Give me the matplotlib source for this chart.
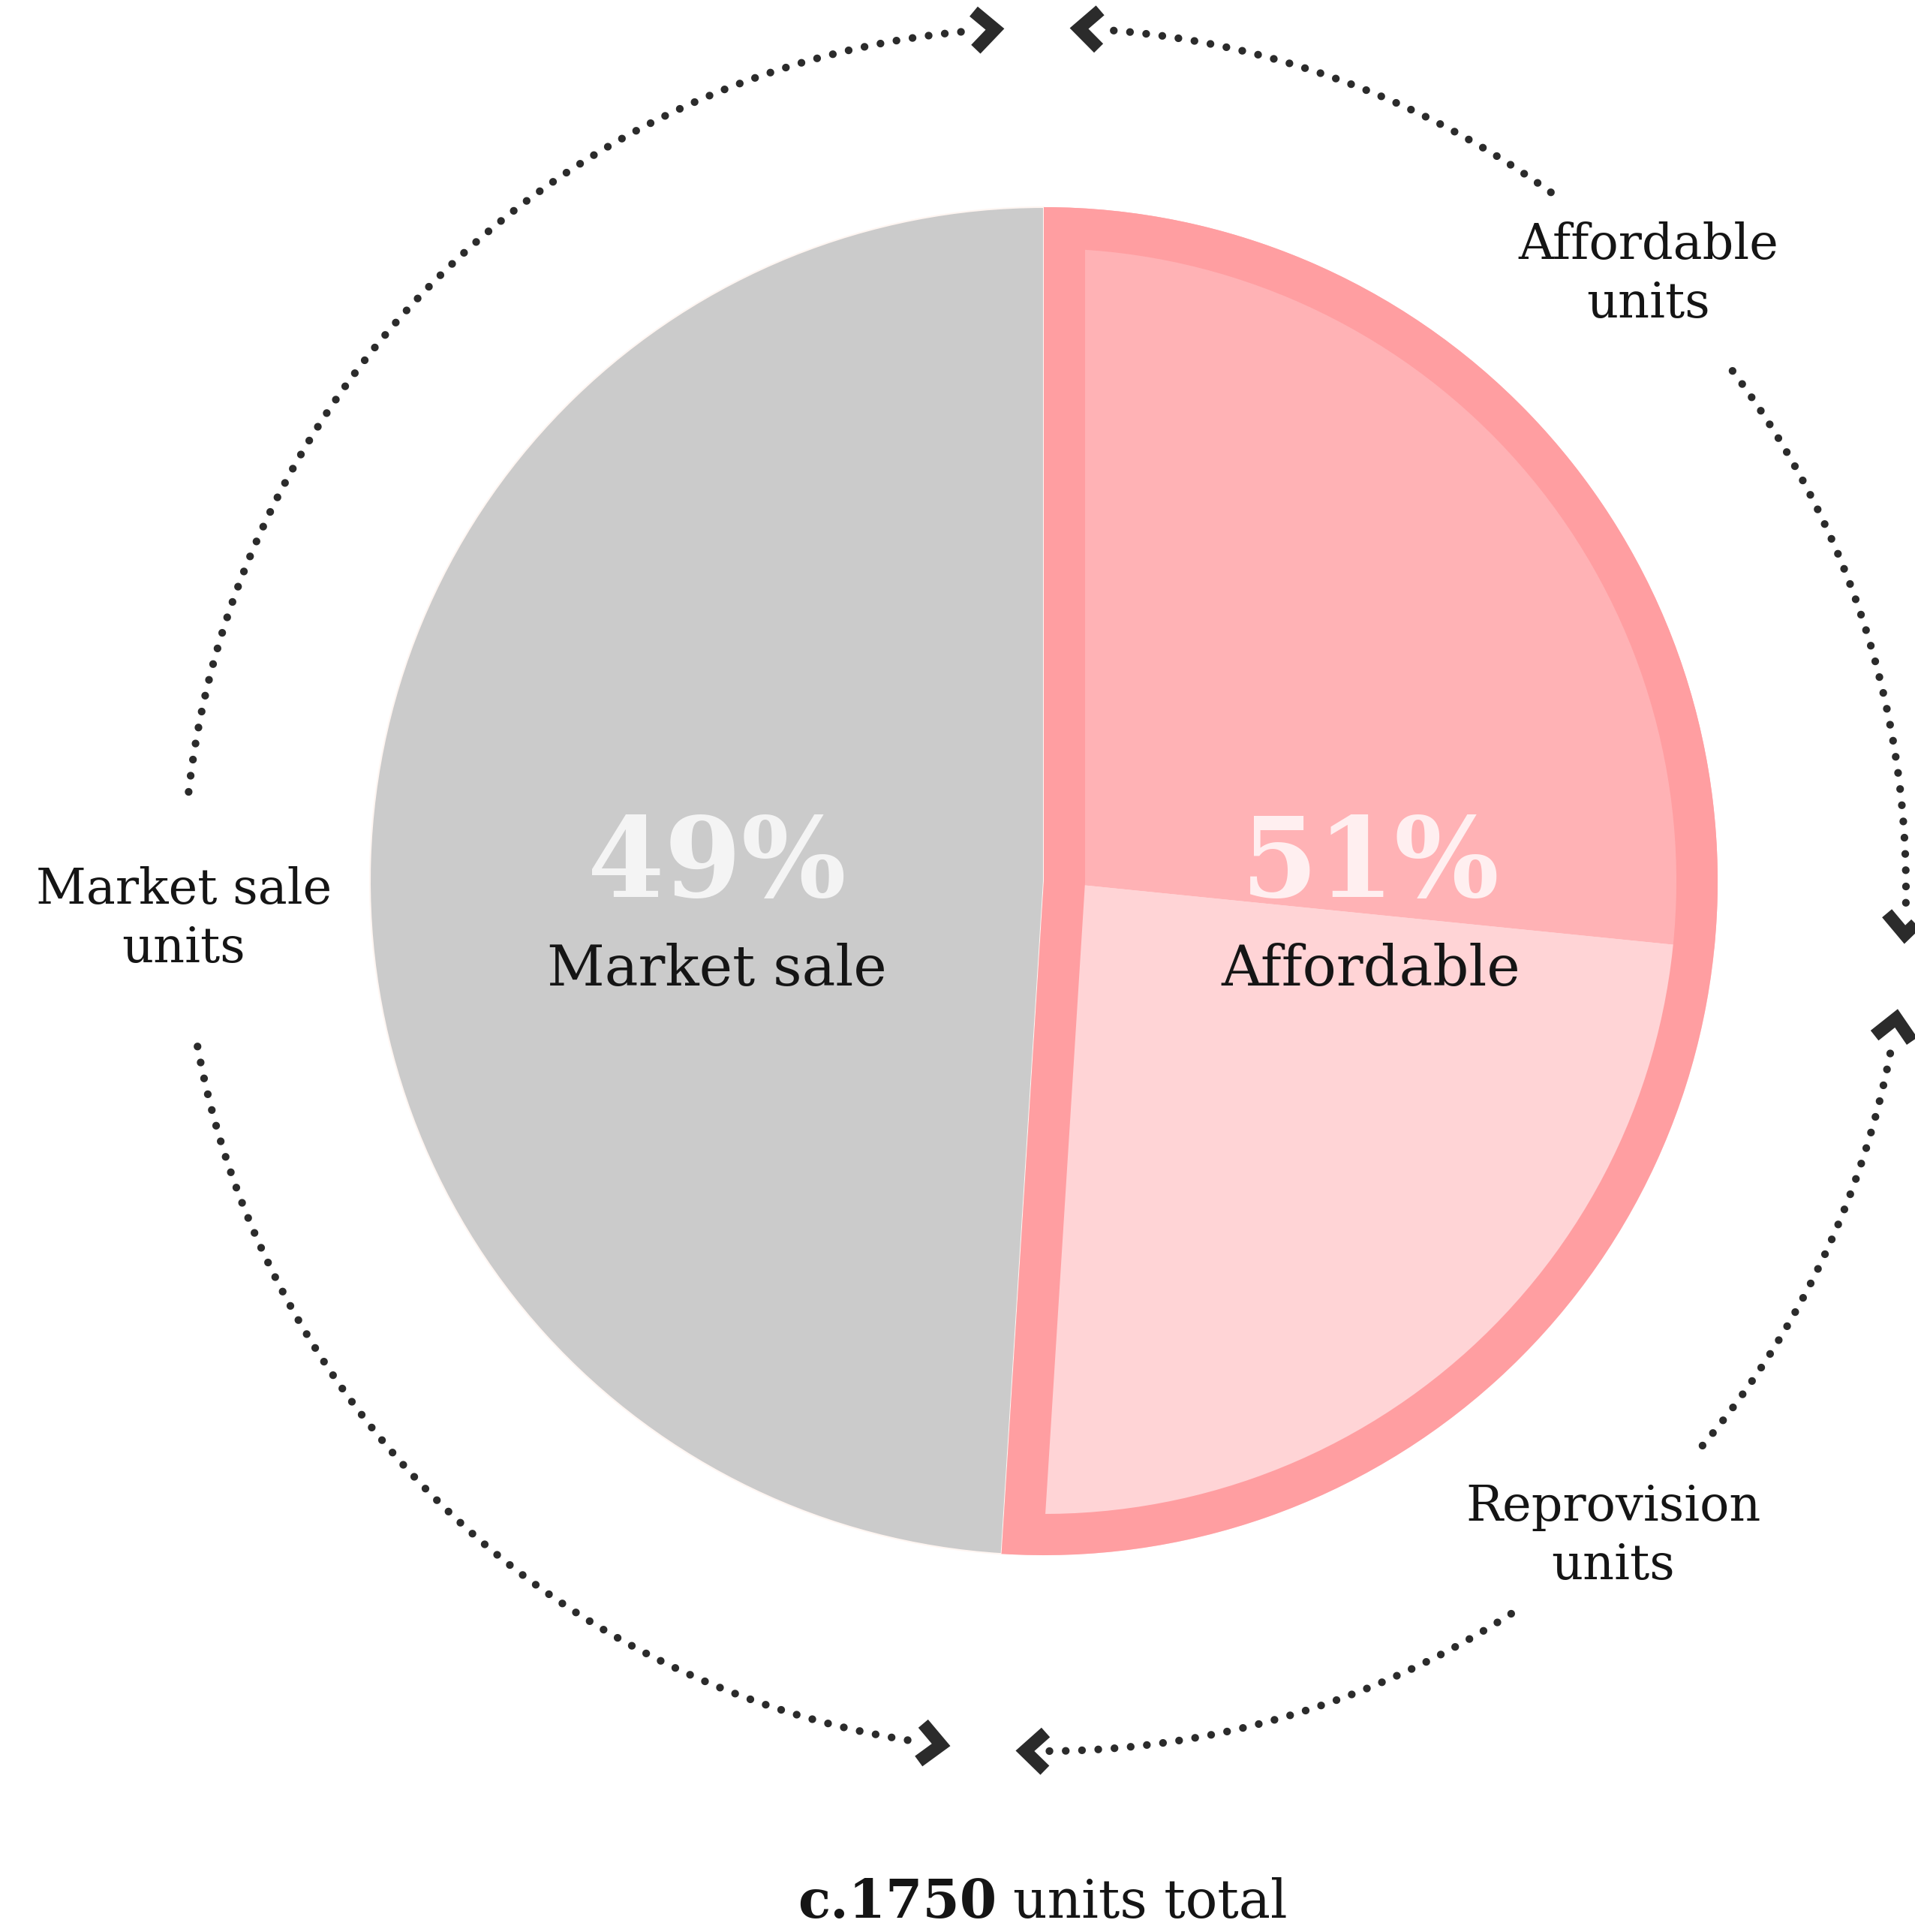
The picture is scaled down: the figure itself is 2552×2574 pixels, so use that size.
import numpy as np
import matplotlib

matplotlib.use('Agg')
import matplotlib.pyplot as plt
from matplotlib.patches import Wedge

W, H = 2552, 2574

# shares of c.1750 units (pie order: counter-clockwise from 12 o'clock)
segments = ['Market sale', 'Reprovision', 'Affordable units']
shares = [49, 24.4, 26.6]
seg_colors = ['#cbcbcb', '#ffd4d6', '#ffb2b5']

big_pct = ['49%', '51%']
big_names = ['Market sale', 'Affordable']
outer_labels = ['Market sale\nunits', 'Affordable\nunits', 'Reprovision\nunits']
total_bold = 'c.1750'
total_rest = 'units total'

BORDER = '#ff9ea1'
DOT = '#2b2b2b'
INK = '#151515'
FONT = 'DejaVu Serif'

# layout (pixels, y up)
CX, CY, R_PIE = 1391, H - 1174, 898
ACX, ACY, RA = 1392, H - 1185, 1148
label_ang = [182.0, 45.5, -48.7]
label_gap = 8.5
arrow_gaps = [90.5, -5.8, -94.1]
arrow_half = 2.2

fig = plt.figure(figsize=(W / 100, H / 100), dpi=100)
ax = fig.add_axes([0, 0, 1, 1])

wedges, _ = ax.pie(shares, colors=seg_colors, startangle=90, counterclock=True,
                   radius=R_PIE, center=(CX, CY), wedgeprops=dict(linewidth=0))
wedges[0].set_edgecolor('#fff6f2')
wedges[0].set_linewidth(1.5)

# thick inset border around the affordable half
t1, t2 = wedges[1].theta1, wedges[2].theta2
outline = Wedge((CX, CY), R_PIE, t1, t2, facecolor='none', edgecolor=BORDER,
                linewidth=110 * 0.72)
ax.add_patch(outline)
outline.set_clip_path(outline)

ax.set_xlim(0, W)
ax.set_ylim(0, H)
ax.set_aspect('equal')
ax.axis('off')


def dotted_arc(a0, a1):
    th = np.radians(np.linspace(a0, a1, 300))
    ax.plot(ACX + RA * np.cos(th), ACY + RA * np.sin(th), color=DOT, lw=7.4,
            linestyle=(0, (0.01, 2.1)), dash_capstyle='round')


def chevron(tip_ang, direction):
    # tip_ang: outer tip of the arrow, direction: +1 travelling ccw, -1 cw
    back = np.degrees(12 / RA) * direction
    a = np.radians(tip_ang - back)
    p = np.array([ACX + RA * np.cos(a), ACY + RA * np.sin(a)])
    tang = direction * np.array([-np.sin(a), np.cos(a)])
    arm = 37
    pts = []
    for s in (43, -43):
        r = np.radians(s)
        rot = np.array([tang[0] * np.cos(r) - tang[1] * np.sin(r),
                        tang[0] * np.sin(r) + tang[1] * np.cos(r)])
        pts.append(p - arm * rot)
    xs = [pts[0][0], p[0], pts[1][0]]
    ys = [pts[0][1], p[1], pts[1][1]]
    ax.plot(xs, ys, color=DOT, lw=17 * 0.72, solid_joinstyle='miter',
            solid_capstyle='butt')


def arrow_arc(start, tip, direction):
    end = tip - direction * np.degrees(40 / RA)
    dotted_arc(start, end)
    chevron(tip, direction)


# market sale <-> top, affordable <-> top
arrow_arc(label_ang[0] - label_gap, arrow_gaps[0] + arrow_half, -1)
arrow_arc(label_ang[1] + label_gap, arrow_gaps[0] - arrow_half, 1)
# affordable <-> right, reprovision <-> right
arrow_arc(label_ang[1] - label_gap, arrow_gaps[1] + arrow_half, -1)
arrow_arc(label_ang[2] + label_gap, arrow_gaps[1] - arrow_half, 1)
# reprovision <-> bottom, market sale <-> bottom
arrow_arc(label_ang[2] - label_gap, arrow_gaps[2] + arrow_half, -1)
arrow_arc(label_ang[0] + label_gap - 360, arrow_gaps[2] - arrow_half, 1)

# outer labels sit on the arc circle
for txt, ang in zip(outer_labels, label_ang):
    a = np.radians(ang)
    ax.text(ACX + RA * np.cos(a), ACY + RA * np.sin(a), txt, ha='center',
            va='center', fontsize=47, family=FONT, color=INK, linespacing=1.28)

# big labels inside the pie
for i, (pct, name) in enumerate(zip(big_pct, big_names)):
    x = CX + (-1 if i == 0 else 1) * 0.485 * R_PIE
    ax.text(x, H - 1195, pct, ha='center', va='baseline', fontsize=106,
            fontweight='bold', family=FONT, color='white', alpha=0.8)
    ax.text(x, H - 1313, name, ha='center', va='baseline', fontsize=54,
            family=FONT, color=INK)

ax.text(1328, H - 2555, total_bold, ha='right', va='baseline', fontsize=51,
        fontweight='bold', family=FONT, color=INK)
ax.text(1350, H - 2555, total_rest, ha='left', va='baseline', fontsize=51,
        family=FONT, color=INK)

fig.savefig('out.png', dpi=100, facecolor='white')
plt.close(fig)
